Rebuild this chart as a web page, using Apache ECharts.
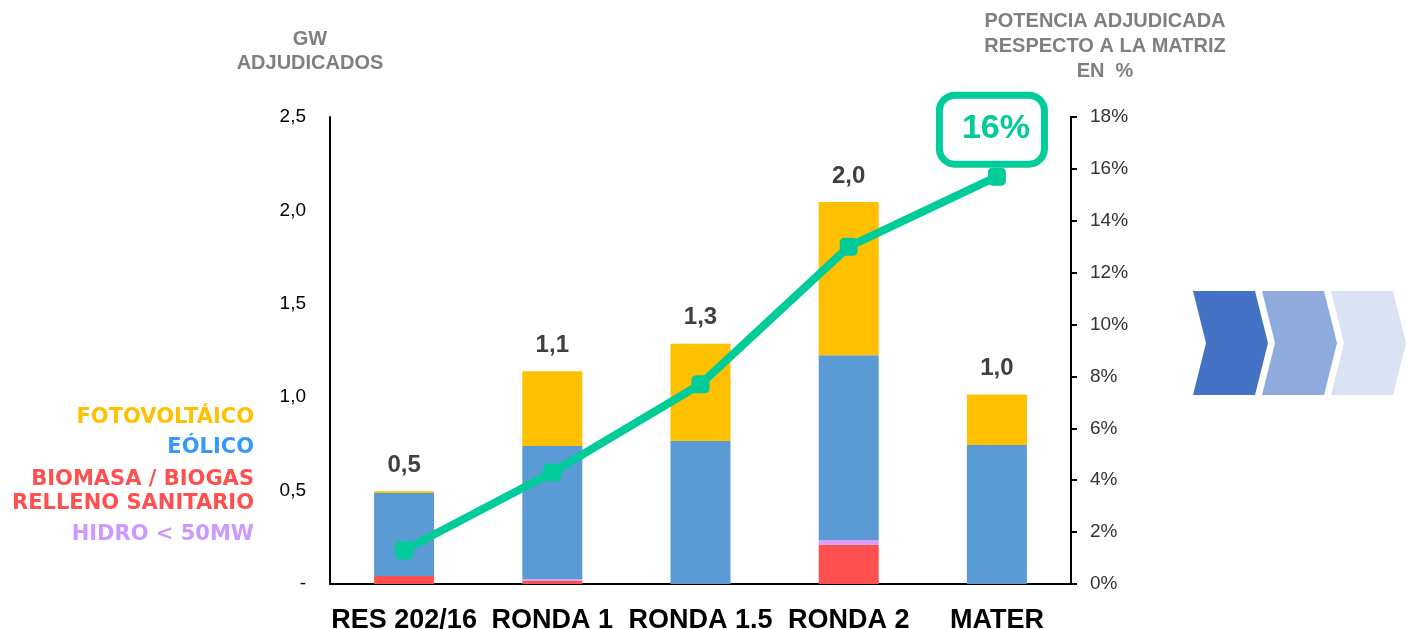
<!DOCTYPE html>
<html>
<head>
<meta charset="utf-8">
<script src="https://cdn.jsdelivr.net/npm/echarts@6/dist/echarts.min.js"></script>
<style>
html, body { margin: 0; padding: 0; background: #fff; }
#chart { width: 1406px; height: 629px; }
</style>
</head>
<body>
<div id="chart"></div>
<script>
// datos
const categories = ['RES 202/16', 'RONDA 1', 'RONDA 1.5', 'RONDA 2', 'MATER']
const biomasa = [0.043, 0.016, 0, 0.21, 0]
const hidro = [0, 0.01, 0, 0.025, 0]
const eolico = [0.444, 0.713, 0.766, 0.99, 0.744]
const fotovoltaico = [0.01, 0.40, 0.52, 0.82, 0.27]
const porcentaje = [1.3, 4.3, 7.7, 13.0, 15.7]

const legendNames = ['FOTOVOLTÁICO', 'EÓLICO', 'BIOMASA / BIOGAS', 'RELLENO SANITARIO', 'HIDRO < 50MW']
const legendColors = ['#FFC000', '#3399FF', '#FF5050', '#FF5050', '#CC99FF']
const legendY = [418, 448, 480, 504, 535]

const totals = categories.map((c, i) => biomasa[i] + hidro[i] + eolico[i] + fotovoltaico[i])
const fmtComa = v => v.toFixed(1).replace('.', ',')

const chart = echarts.init(document.getElementById('chart'))

const legendText = legendNames.map((name, i) => ({
  type: 'text',
  x: 254,
  y: legendY[i],
  style: {
    text: name,
    fill: legendColors[i],
    font: 'bold 21px "DejaVu Sans"',
    textAlign: 'right',
    textVerticalAlign: 'middle'
  }
}))

const chevron = (x0, color) => ({
  type: 'polygon',
  shape: {
    points: [[x0, 291], [x0 + 62, 291], [x0 + 75, 343], [x0 + 62, 395], [x0, 395], [x0 + 13, 343]]
  },
  style: { fill: color }
})

const option = {
  backgroundColor: '#fff',
  animation: false,
  grid: { left: 330, right: 335, top: 117, bottom: 45, containLabel: false, outerBoundsMode: 'none' },
  xAxis: {
    type: 'category',
    data: categories,
    axisLine: { lineStyle: { color: '#000', width: 2 } },
    axisTick: { show: false },
    axisLabel: {
      interval: 0,
      color: '#000',
      fontSize: 27,
      fontWeight: 'bold',
      fontFamily: 'Liberation Sans',
      margin: 23
    }
  },
  yAxis: [
    {
      type: 'value',
      min: 0,
      max: 2.5,
      interval: 0.5,
      splitLine: { show: false },
      axisLine: { show: true, lineStyle: { color: '#000', width: 2 } },
      axisTick: { show: false },
      axisLabel: {
        color: '#000',
        fontSize: 19,
        fontFamily: 'Liberation Sans',
        margin: 24,
        formatter: v => (v === 0 ? '-' : fmtComa(v))
      }
    },
    {
      type: 'value',
      min: 0,
      max: 18,
      interval: 2,
      splitLine: { show: false },
      axisLine: { show: true, lineStyle: { color: '#000', width: 2 } },
      axisTick: { show: true, length: 6, lineStyle: { color: '#000', width: 2 } },
      axisLabel: {
        color: '#333',
        fontSize: 19,
        fontFamily: 'Liberation Sans',
        margin: 19,
        formatter: '{value}%'
      }
    }
  ],
  graphic: [
    {
      type: 'text',
      x: 310,
      y: 27,
      style: {
        text: 'GW\nADJUDICADOS',
        fill: '#7F7F7F',
        font: 'bold 20px "Liberation Sans"',
        lineHeight: 24,
        textAlign: 'center'
      }
    },
    {
      type: 'text',
      x: 1105,
      y: 9,
      style: {
        text: 'POTENCIA ADJUDICADA\nRESPECTO A LA MATRIZ\nEN  %',
        fill: '#7F7F7F',
        font: 'bold 20px "Liberation Sans"',
        lineHeight: 25,
        textAlign: 'center'
      }
    },
    ...legendText,
    chevron(1193, '#4472C4'),
    chevron(1262, '#8FAADC'),
    chevron(1331, '#DAE3F3')
  ],
  series: [
    {
      name: 'BIOMASA',
      type: 'bar',
      stack: 'gw',
      barWidth: 60,
      itemStyle: { color: '#FF5050' },
      data: biomasa
    },
    {
      name: 'HIDRO',
      type: 'bar',
      stack: 'gw',
      itemStyle: { color: '#D5A0F5' },
      data: hidro
    },
    {
      name: 'EÓLICO',
      type: 'bar',
      stack: 'gw',
      itemStyle: { color: '#5B9BD5' },
      data: eolico
    },
    {
      name: 'FOTOVOLTÁICO',
      type: 'bar',
      stack: 'gw',
      itemStyle: { color: '#FFC000' },
      label: {
        show: true,
        position: 'top',
        distance: 14,
        color: '#404040',
        fontSize: 24,
        fontWeight: 'bold',
        fontFamily: 'Liberation Sans',
        formatter: p => fmtComa(totals[p.dataIndex])
      },
      data: fotovoltaico
    },
    {
      name: 'POTENCIA',
      type: 'line',
      yAxisIndex: 1,
      z: 5,
      symbol: 'roundRect',
      symbolSize: 18,
      lineStyle: { color: '#00CC99', width: 8 },
      itemStyle: { color: '#00CC99' },
      data: porcentaje.map((v, i) => i === porcentaje.length - 1
        ? {
            value: v,
            label: {
              show: true,
              position: 'top',
              distance: 7,
              offset: [-5, 0],
              formatter: p => Math.round(p.value) + '%',
              color: '#00CC99',
              fontSize: 34,
              fontWeight: 'bold',
              fontFamily: 'Liberation Sans',
              lineHeight: 34,
              backgroundColor: '#fff',
              borderColor: '#00CC99',
              borderWidth: 7,
              borderRadius: 12,
              padding: [13, 11, 15, 19]
            }
          }
        : v)
    }
  ]
}

chart.setOption(option)
</script>
</body>
</html>
